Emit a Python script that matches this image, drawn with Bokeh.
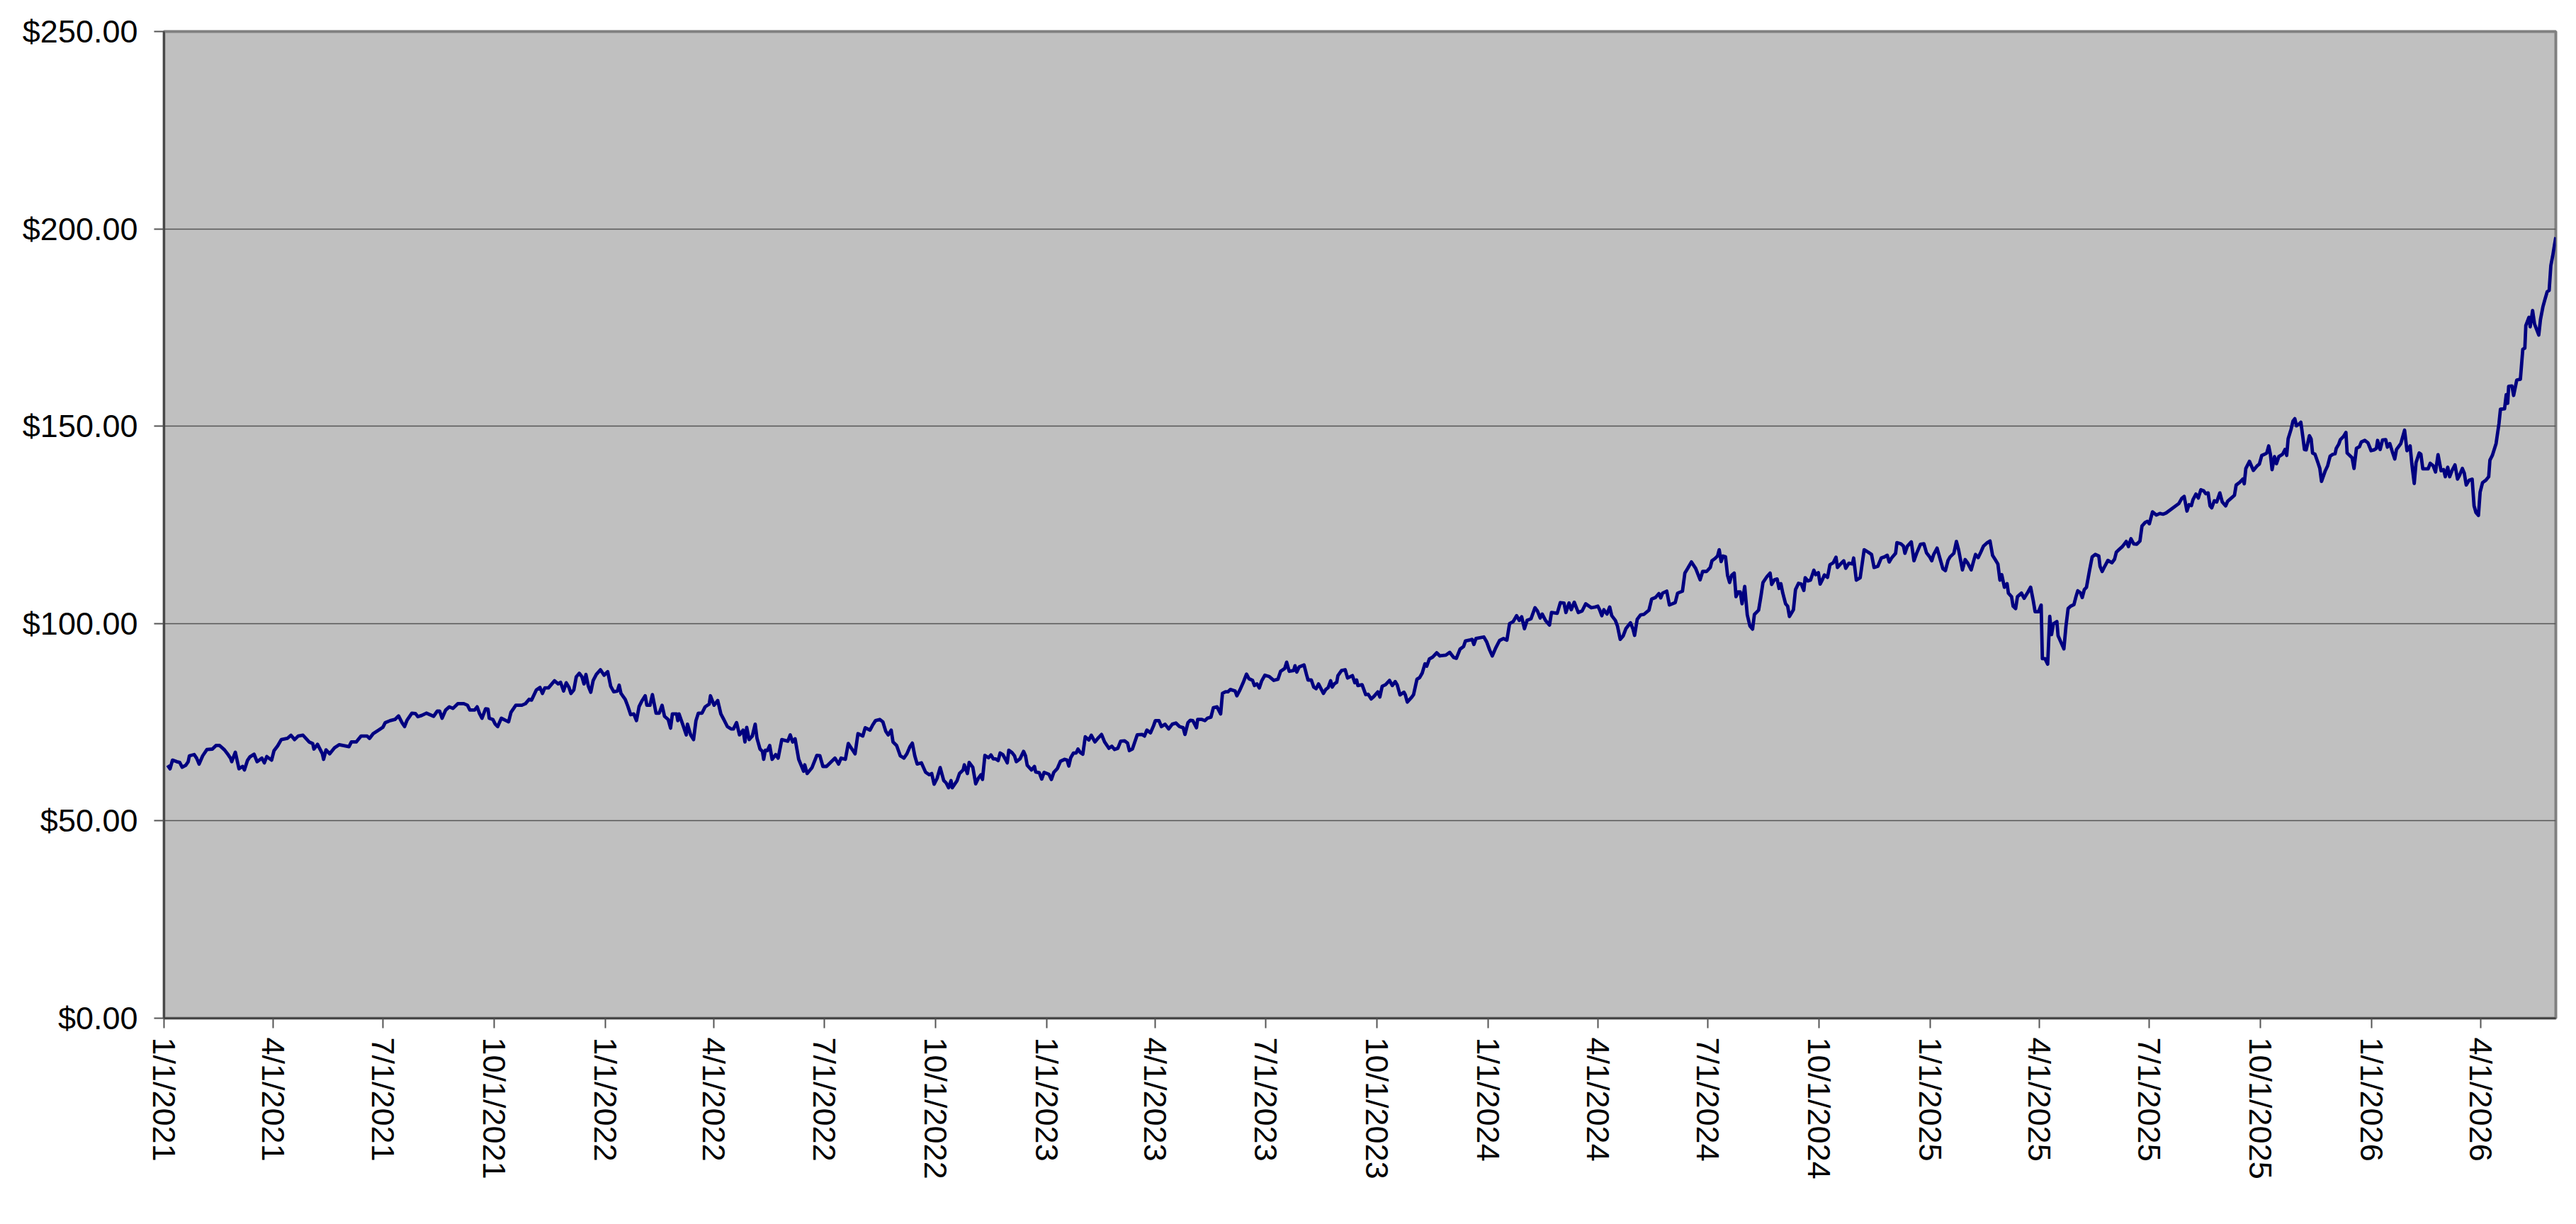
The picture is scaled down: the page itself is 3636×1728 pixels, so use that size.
import pandas as pd
from bokeh.plotting import figure
from bokeh.models import (Range1d, FixedTicker, NumeralTickFormatter,
                          CustomJSTickFormatter, ColumnDataSource)
from bokeh.embed import file_html
from bokeh.resources import INLINE

START = "2021-01-01"

# (day offset from START, price)
seg_2021 = [(3,64.1),(5,63.2),(7,65.4),(10.6,65.0),(13,64.8),(15,63.6),(18,64.1),(20,65.0),(21,66.5),(25,66.8),(27,65.9),(29,64.4),(32,66.5),(35.5,68.1),(40,68.2),(43,69.1),(46,69.1),(50,68.0),(53,66.8),(55,65.9),(56,65.0),(59,67.4),(62,63.2),(65,63.8),(66.5,62.9),(69,65.3),(71,66.2),(74.5,66.9),(77,65.0),(81,65.9),(83,64.7),(85,66.3),(89,65.4),(91,67.8),(94,69.0),(97,70.6),(102,70.9),(105,71.7),(108,70.6),(111,71.5),(115,71.7),(120,70.0),(123,69.6),(124,68.2),(127,69.4),(131,67.0),(132,65.6),(134,68.0),(137,67.0),(141,68.5),(145,69.3),(153,68.8),(155,70.0),(159,70.0),(163,71.5),(168,71.5),(170,70.9),(173,72.1),(177.5,73.0),(181,73.7),(183,74.9),(187,75.4),(191,75.7),(194,76.6),(197,74.8),(199,73.9),(201,75.5),(205,77.3),(208,77.2),(210,76.4),(213,76.7),(217,77.3),(220,76.9),(223,76.5),(226,77.8),(228,77.8),(230,76.0),(233,78.1),(236,78.9),(239,78.5),(243,79.7),(248,79.7),(251,79.3),(253,78.1),(257,78.1),(259,78.9),(261,77.2),(263,76.0),(266,78.4),(268,78.3),(269,76.0),(272,75.7),(274,74.5),(276,73.9),(279,76.0),(283,75.4),(285,75.1),(287,77.5),(291,79.3),(296,79.3),(299,79.7),(302,80.8),(304,80.6),(308,83.2),(311,83.8),(313,82.3),(315,83.7),(318,83.7),(323,85.5),(326,84.7),(328,85.1)]

seg_2022 = [(330.5,82.9),(332.7,85.0),(335,83.8),(336.6,82.3),(339,83.2),(341,86.5),(343.5,87.4),(345.7,86.5),(347.4,84.7),(349,87.1),(351,84.1),(353,82.6),(355,85.6),(357.6,87.1),(361,88.3),(364,86.9),(367,87.8),(369.5,84.1),(372,82.7),(375,82.9),(376.5,84.4),(378,82.3),(381.5,80.8),(383.6,79.1),(386,76.9),(388.6,77.1),(390.8,75.4),(393,79.0),(395.5,80.5),(398,81.7),(399.4,79.3),(402,79.3),(404,82.0),(407,77.3),(409.6,77.3),(412,79.3),(414,76.5),(417,75.7),(419,73.5),(420.5,77.1),(424,77.1),(425,75.4),(426,77.1),(429,74.5),(432,71.8),(433,74.5),(435.6,71.8),(438,70.6),(440,75.4),(442,77.3),(445,77.3),(447.6,78.9),(451,79.6),(452,81.7),(455,79.3),(458,80.5),(460.6,77.1),(463,75.7),(466,73.9),(469,73.3),(471,73.3),(473.6,74.9),(476,71.8),(479,73.0),(480.5,70.0),(482,73.7),(484,70.6),(486.6,71.5),(489,74.5),(490.5,70.9),(493,68.2),(495,67.6),(496,65.6),(497.4,67.9),(499,67.8),(501,69.1),(503,65.6),(506,66.8),(508,65.9),(511,70.6),(516,70.2),(518,71.8),(520,70.0),(522,70.8),(525,65.6),(529,62.6),(530,64.2),(532,62.0),(536,63.5),(540,66.6),(542.5,66.5),(545,63.8),(548,63.8),(552,65.0),(555,65.9),(558,64.4),(560,65.9),(563.6,65.6),(566,69.6),(569,68.2),(571.6,67.0),(574,72.1),(578,71.5),(580,73.6),(584,73.0),(586,74.2),(588.5,75.4),(592,75.7),(594.6,75.1),(597,72.7),(599,71.8),(601.5,73.0),(603,70.0),(606,69.1),(609,66.5),(612,65.9),(614.5,67.0),(617,68.8),(619,69.7),(621,66.5),(623,64.4),(626.5,64.7),(630,62.3),(633,61.7),(635,62.0),(637,59.3),(639.5,60.8),(642,63.5),(645,60.2),(647,59.6),(649,58.4),(651,60.2),(652,58.4),(656,60.2),(658,62.0),(661,62.9),(662,64.2)]

seg_2023 = [(664.5,62.0),(666,64.8),(669,63.6),(671.4,59.4),(673.6,60.8),(675.8,61.7),(677,60.5),(679,66.6),(682,66.0),(684,66.7),(686,65.7),(688,65.7),(690,65.3),(691.6,67.2),(693.8,66.8),(696,65.6),(697.5,64.7),(698.8,67.9),(701.4,67.3),(703.5,66.5),(705,65.0),(708,65.7),(711,67.6),(712.6,66.5),(714,64.1),(717.6,62.9),(720,63.8),(721,62.4),(724,62.2),(726,60.6),(728,62.3),(732,61.8),(734,60.5),(736,62.3),(739,63.3),(741.5,65.1),(745,65.6),(747,65.4),(748.4,63.9),(750,66.0),(752.3,67.2),(754.5,67.2),(756,68.2),(758,67.3),(760,66.9),(762,71.3),(765,70.5),(767,71.7),(770,70.0),(773,71.1),(775.5,71.9),(778,70.0),(781.6,68.4),(784,68.9),(786.3,68.1),(789,68.4),(791.3,70.2),(794.6,70.3),(797,69.7),(798.5,67.8),(801,68.2),(803,70.0),(805,71.8),(809,71.9),(811,71.5),(813,73.0),(816,72.3),(818.5,74.1),(820,75.4),(823,75.4),(825,73.9),(828,74.5),(831,73.3),(834,74.5),(837,74.8),(840,73.9),(843,73.6),(844.5,71.9),(847,74.9),(849,75.5),(851,75.4),(854,73.6),(855,75.7),(858.5,75.7),(861,75.4),(863,76.0),(866,76.3),(868,78.7),(871,78.9),(874,77.1),(875.5,82.3),(878,82.7),(880,82.7),(882,83.3),(886,82.9),(887.4,81.7),(890,83.2),(893,85.3),(895.4,87.2),(897.5,86.0),(900.4,85.6),(902,84.3),(904,84.7),(906,83.7),(908,85.5),(910.6,86.9),(914,86.6),(918,85.6),(921.4,85.9),(923.6,87.9),(927,88.6),(928.6,90.2),(930.7,87.9),(934.4,88.1),(935.5,89.3),(937,87.7),(939,89.0),(943,89.5),(945,87.1),(946.3,85.7),(949,85.7),(951,83.9),(953,83.5),(955,84.7),(959,82.3),(961,83.3),(963,83.8),(965,85.5),(966.3,83.9),(968,84.7),(970,85.1),(971,86.8),(974,88.1),(977,88.3),(979,86.2),(983,86.8),(985,85.0),(986.5,85.7),(987.5,84.3),(991,84.5),(994,82.0),(996,82.1)]

seg_2024 = [(998.5,80.9),(1000.7,81.5),(1004,82.7),(1005.7,81.4),(1007.6,84.1),(1010.4,84.5),(1013.7,85.6),(1016,84.3),(1018.4,85.3),(1020,84.5),(1022.4,81.9),(1025.6,82.6),(1026.7,82.0),(1028.4,80.1),(1032,81.3),(1033.6,82.0),(1036.4,85.9),(1038.6,86.3),(1040.8,87.5),(1043,89.8),(1044.5,89.2),(1046.6,91.0),(1049.4,91.5),(1052.7,92.6),(1055.3,91.8),(1060.3,92.0),(1063.5,92.7),(1066.8,91.4),(1069,91.2),(1072,93.5),(1075,94.2),(1076.5,95.6),(1079.8,95.8),(1082,96.0),(1083.5,94.7),(1085.2,96.2),(1091.7,96.6),(1094,95.4),(1096.5,93.3),(1098.7,91.8),(1101.5,93.8),(1104.7,95.7),(1108,96.2),(1110.8,95.8),(1113,100.0),(1116,100.5),(1118.8,102.0),(1121,100.8),(1123,101.7),(1125.3,98.7),(1127.5,100.8),(1130.7,101.2),(1134,104.0),(1136,103.2),(1138.3,101.4),(1140,102.4),(1142.7,100.8),(1146,99.6),(1147.7,102.8),(1152.4,102.6),(1155,105.3),(1158,105.2),(1159.6,102.8),(1162.2,105.2),(1164,103.5),(1166.5,105.4),(1169.8,102.8),(1173,103.2),(1176,105.0),(1180.6,104.0),(1184,104.2),(1186,104.4),(1187.5,103.5),(1189.3,102.0),(1191,103.5),(1193.6,102.4),(1195.8,104.2),(1197.5,102.0),(1200.5,100.8),(1202.3,99.3),(1204.5,96.0),(1207,96.9),(1209.2,98.7),(1213,100.2),(1215,98.7),(1216.4,97.0),(1218.6,101.1),(1221.4,102.2),(1224,102.3),(1228.3,103.4),(1230.5,106.2),(1233.7,106.6),(1236.5,107.6),(1238,106.5),(1239.6,107.7),(1243,108.2),(1245.2,104.7),(1250,105.3),(1252,107.7),(1256,108.2),(1258,112.8),(1260.4,114.0),(1263.4,115.6),(1266.9,114.0),(1270.6,111.1),(1272.7,113.2),(1276,113.2),(1279,114.2),(1280.4,115.9),(1283,116.5),(1285,117.1),(1286.4,118.7),(1288,115.7),(1289.5,117.1),(1291.6,116.9),(1293.3,112.2),(1295,110.4),(1296.6,112.2),(1298.8,112.8),(1300.3,106.8),(1302,108.0),(1303.8,108.0),(1305.3,105.0),(1307.5,109.4),(1309.6,102.2),(1311.8,99.4),(1314,98.6),(1315.5,102.3),(1319,103.4),(1321,107.1),(1322.6,110.4),(1325.9,111.9),(1328.5,112.8),(1329.8,109.9),(1332,111.1)]

seg_2025 = [(1334.3,111.3),(1335.9,108.9),(1337.4,110.1),(1339,107.7),(1341.3,105.0),(1343,104.4),(1344.5,101.8),(1347.8,103.5),(1349.5,108.6),(1352,110.2),(1354.3,110.0),(1356.4,108.4),(1357.5,111.6),(1359.7,110.8),(1361.9,111.0),(1364.7,113.5),(1366.2,112.4),(1368.4,112.9),(1369.9,110.0),(1371.6,111.0),(1373.4,112.3),(1376,111.7),(1378,114.9),(1380.7,115.4),(1383,116.8),(1384.2,114.2),(1386.8,115.1),(1389.4,115.9),(1391.1,114.0),(1393.7,115.3),(1396.6,115.1),(1397.6,116.6),(1399.8,111.0),(1403,111.6),(1406.3,118.7),(1409.6,118.1),(1412.4,117.5),(1414.5,114.2),(1417.6,114.5),(1420.4,116.6),(1423.2,116.9),(1425.4,117.3),(1427,115.6),(1429,116.6),(1432.3,117.8),(1433.4,120.5),(1436.7,120.2),(1438.8,119.6),(1440,117.8),(1442,119.6),(1445.3,120.7),(1447.5,115.9),(1449.7,117.8),(1452.9,120.1),(1455.7,120.2),(1457.9,117.9),(1460.5,116.9),(1462.2,115.9),(1463.8,117.5),(1466.6,119.1),(1468.8,116.7),(1471.4,113.9),(1473.5,113.4),(1475.7,116.0),(1477.4,116.9),(1480.5,117.8),(1482.6,120.8),(1484.4,118.7),(1487.6,113.6),(1489.8,116.2),(1492,115.3),(1494.8,113.6),(1497,116.0),(1498.4,117.5),(1500.6,116.7),(1502.8,118.1),(1505,119.6),(1508.2,120.5),(1510.4,120.9),(1512.5,117.3),(1514.7,116.2),(1516.9,115.1),(1518.6,111.0),(1520.1,112.4),(1522.3,109.2),(1524.5,110.1),(1525.6,107.7),(1528.2,106.8),(1529.5,104.4),(1531.6,103.8),(1533.1,106.8),(1536.4,107.7),(1538.6,106.4),(1541.8,108.0),(1544,109.2),(1546.1,105.9),(1547.7,103.0),(1550.5,103.0),(1552.7,104.7),(1553.7,91.1),(1555.9,91.1),(1558.1,89.7),(1559.8,101.8),(1561.3,97.2),(1562.8,99.9),(1565.7,100.5),(1566.7,96.9),(1569.3,95.1),(1571.5,93.6),(1573.2,99.3),(1575,103.8),(1577.1,104.4),(1579.8,104.8),(1581.5,106.8),(1583,108.3),(1585.2,107.8),(1586.7,106.6),(1588.4,108.6),(1590.2,109.2),(1592.8,113.6),(1594.9,116.9),(1597.5,117.5),(1600.4,117.1),(1601.4,114.5),(1603.2,113.2),(1605.3,114.5),(1607.9,116.0),(1611.2,115.4),(1613.4,116.3),(1614.9,118.1),(1617,118.7),(1619.9,119.5),(1623.1,120.8),(1624.9,119.5),(1627,121.5),(1629.2,120.2),(1631.8,120.1),(1634.4,120.9),(1636.1,124.7),(1638.7,125.6),(1640.5,125.9),(1642.2,125.3),(1644.8,128.3),(1648,127.5),(1650.9,127.9),(1653.5,127.7),(1656,128.0)]

seg_2026 = [(1666.6,130.4),(1669,131.7),(1671,132.2),(1673.3,128.5),(1675,130.1),(1677,129.9),(1678.3,131.4),(1680.7,132.8),(1682.7,131.8),(1684.8,133.9),(1687.2,133.6),(1688.8,132.9),(1690.8,133.1),(1692.4,129.8),(1693.8,129.3),(1695.9,131.1),(1697.9,130.8),(1700.5,133.1),(1702.5,130.8),(1705.3,129.8),(1707,131.0),(1710,131.8),(1712.6,132.5),(1714,135.1),(1717,135.8),(1719.5,136.6),(1720.7,135.4),(1722,139.3),(1725,141.1),(1728.2,138.8),(1731.2,139.9),(1733.2,140.4),(1735.2,142.6),(1737.6,142.9),(1739.3,143.2),(1740.9,145.0),(1742.3,142.9),(1743.7,139.0),(1745.7,142.3),(1747.3,140.5),(1749.3,142.3),(1752.4,142.9),(1754.4,144.1),(1755.8,142.6),(1757,146.8),(1759.4,149.2),(1761,151.3),(1762.5,151.9),(1763.9,150.1),(1766.5,150.7),(1767.5,151.0),(1769.1,147.4),(1770.5,144.1),(1771.9,144.0),(1774.6,147.6),(1776,146.8),(1777.2,143.2),(1779.2,142.9),(1781.6,140.8),(1783.2,139.3),(1784.6,136.0),(1787.7,138.7),(1789.7,140.0),(1791.7,142.4),(1794.1,142.9),(1795.8,143.0),(1796.8,144.4),(1798.8,145.4),(1800.2,146.6),(1802.8,147.4),(1804.8,148.4),(1805.8,143.2),(1807.9,142.6),(1809.9,142.0),(1811.5,139.3),(1813.5,144.4),(1816,144.8),(1817.5,146.0),(1820.4,146.4),(1823,145.8),(1825.6,143.8),(1828,144.0),(1830,144.4),(1831,146.4),(1833.1,144.1),(1835.1,146.5),(1837.7,146.6),(1839.1,144.7),(1841.1,145.6),(1843.2,143.5),(1845.2,141.7),(1846.6,144.1),(1850.2,145.6),(1853.3,149.0),(1855.3,143.8),(1857.9,145.0),(1859.3,140.5),(1861.3,135.5),(1862.8,140.8),(1865.4,143.2),(1866.8,142.9),(1868.4,139.2),(1872.8,139.2),(1874.5,140.6),(1876.9,140.0),(1878.9,138.4),(1881,142.8),(1883.5,138.7),(1885.6,139.0),(1887,137.2),(1889,139.6),(1890.6,137.2),(1892.6,138.8),(1895,140.2),(1897.1,136.6),(1898.7,137.5),(1901.1,139.3),(1902.7,138.1),(1904.3,135.1),(1906.7,136.3),(1909.2,136.6),(1910.8,129.8),(1912.4,128.1),(1914.4,127.4),(1915.8,133.3),(1917.8,135.7),(1920.5,136.3),(1922.9,137.2),(1923.9,141.4),(1925.9,142.6),(1929,145.6),(1931.4,150.7),(1932.6,154.3),(1936,154.4),(1937.4,158.0),(1938.6,155.8),(1939.4,160.1),(1942.1,160.2),(1943.5,157.8),(1946.1,161.7),(1949.1,161.9),(1951.1,169.5),(1952.8,169.8),(1953.6,175.5),(1956.2,177.6),(1957.2,175.2),(1959.2,179.3),(1960.8,175.9),(1964.3,173.1),(1965.7,177.0),(1967.7,180.2),(1969.3,182.0),(1971.3,184.1),(1972.9,184.4),(1974.3,190.7),(1975.8,193.1),(1977.4,196.1),(1978.4,197.9)]

tick_dates = ["2021-01-01", "2021-04-01", "2021-07-01", "2021-10-01",
              "2022-01-01", "2022-04-01", "2022-07-01", "2022-10-01",
              "2023-01-01", "2023-04-01", "2023-07-01", "2023-10-01",
              "2024-01-01", "2024-04-01", "2024-07-01", "2024-10-01",
              "2025-01-01", "2025-04-01", "2025-07-01", "2025-10-01",
              "2026-01-01", "2026-04-01"]
y_ticks = [0, 50, 100, 150, 200, 250]

pairs = seg_2021 + seg_2022 + seg_2023 + seg_2024 + seg_2025 + seg_2026
days = [d for d, _ in pairs]
price = [v for _, v in pairs]
start = pd.Timestamp(START)
dates = [start + pd.Timedelta(days=d) for d in days]

src = ColumnDataSource(data=dict(date=dates, price=price))

p = figure(width=3630, height=1724, x_axis_type="datetime",
           output_backend="svg", toolbar_location=None,
           x_range=Range1d(start=start, end=dates[-1]),
           y_range=Range1d(y_ticks[0], y_ticks[-1]),
           min_border_left=231, min_border_right=23,
           min_border_top=44, min_border_bottom=287,
           background_fill_color="#C0C0C0", border_fill_color="white",
           outline_line_color="#808080", outline_line_width=4)

p.line(x="date", y="price", source=src, line_color="#000080", line_width=4.8,
       line_join="round")

x_tick_ms = [pd.Timestamp(t).value // 10**6 for t in tick_dates]
p.xaxis.ticker = FixedTicker(ticks=x_tick_ms)
p.xaxis.formatter = CustomJSTickFormatter(code="""
    const d = new Date(tick);
    return (d.getUTCMonth() + 1) + "/" + d.getUTCDate() + "/" + d.getUTCFullYear();
""")
p.yaxis.ticker = FixedTicker(ticks=y_ticks)
p.yaxis.formatter = NumeralTickFormatter(format="$0.00")

for ax in (p.xaxis[0], p.yaxis[0]):
    ax.axis_line_color = "#333333"
    ax.axis_line_width = 2
    ax.major_tick_line_color = "#555555"
    ax.major_tick_line_width = 2
    ax.major_tick_in = 0
    ax.major_tick_out = 14
    ax.minor_tick_line_color = None
    ax.major_label_text_font = "Liberation Sans"
    ax.major_label_text_font_size = "45px"
    ax.major_label_text_color = "black"

p.yaxis.major_label_standoff = 23
p.xaxis.major_label_standoff = 13
p.xaxis.major_label_orientation = "vertical"

p.xgrid.grid_line_color = None
p.ygrid.ticker = FixedTicker(ticks=y_ticks)
p.ygrid.grid_line_color = "#555555"
p.ygrid.grid_line_width = 1.5

open("out.html", "w").write(file_html(p, INLINE))
